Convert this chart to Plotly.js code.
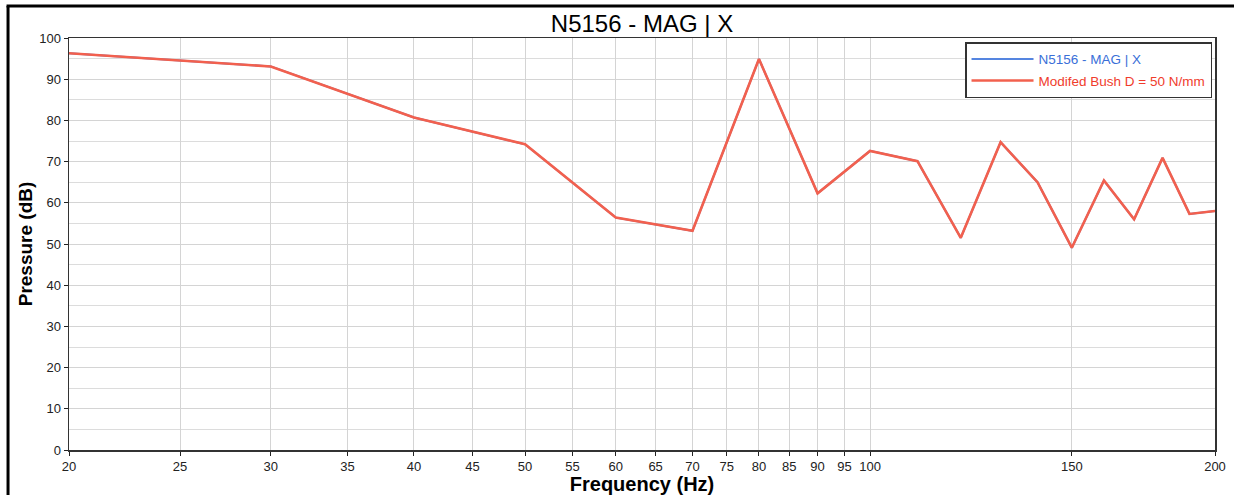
<!DOCTYPE html>
<html>
<head>
<meta charset="utf-8">
<script src="https://cdn.plot.ly/plotly-3.0.1.min.js"></script>
<style>
  html, body { margin: 0; padding: 0; background: #ffffff; }
  #chart { width: 1234px; height: 495px; }
</style>
</head>
<body>
<div id="chart"></div>
<script>
// Frequencies (Hz)
const frequency = [20, 30, 40, 50, 60, 70, 80, 90, 100, 110, 120, 130, 140, 150, 160, 170, 180, 190, 200];
// Pressure (dB) - original series (hidden under the modified one)
const pressureOriginal = [96.3, 93.1, 80.7, 74.2, 56.4, 53.2, 94.9, 62.3, 72.6, 70.1, 51.5, 74.7, 65.0, 49.1, 65.4, 56.0, 70.9, 57.3, 58.0];
// Pressure (dB) - Modified Bush D = 50 N/mm
const pressureModified = [96.3, 93.1, 80.7, 74.2, 56.4, 53.2, 94.9, 62.3, 72.6, 70.1, 51.5, 74.7, 65.0, 49.1, 65.4, 56.0, 70.9, 57.3, 58.0];

const xTickVals = [20, 25, 30, 35, 40, 45, 50, 55, 60, 65, 70, 75, 80, 85, 90, 95, 100, 150, 200];
const xTickText = ["20", "25", "30", "35", "40", "45", "50", "55", "60", "65", "70", "75", "80", "85", "90", "95", "100", "150", "200"];
const yTickVals = [0, 10, 20, 30, 40, 50, 60, 70, 80, 90, 100];

const seriesNames = ["N5156 - MAG | X", "Modifed Bush D = 50 N/mm"];

const traces = [
  {
    x: frequency, y: pressureOriginal, type: "scatter", mode: "lines",
    name: '<span style="color:#3a6fd8">' + seriesNames[0] + '</span>',
    legendgroup: "a",
    line: { color: "#5585e0", width: 2 }
  },
  {
    x: frequency, y: pressureModified, type: "scatter", mode: "lines",
    name: '<span style="color:#f03c2c">' + seriesNames[1] + '</span>',
    legendgroup: "b",
    line: { color: "#f2604e", width: 2.6 }
  }
];

const fontFam = "Liberation Sans, Arial, sans-serif";

const layout = {
  width: 1234, height: 495,
  margin: { l: 69, r: 19, t: 38, b: 45, pad: 0 },
  paper_bgcolor: "#ffffff",
  plot_bgcolor: "#ffffff",
  font: { family: fontFam, color: "#222222", size: 13 },
  title: {
    text: "N5156 - MAG | X",
    font: { family: fontFam, size: 24, color: "#000000" },
    x: 0.5, xanchor: "center", xref: "paper",
    y: 1, yref: "container", yanchor: "top", pad: { t: 15 }
  },
  xaxis: {
    type: "log",
    range: [Math.log10(20), Math.log10(200)],
    tickmode: "array", tickvals: xTickVals, ticktext: xTickText,
    ticks: "outside", ticklen: 4, tickcolor: "#222222",
    showgrid: true, gridcolor: "#d4d4d4", gridwidth: 1,
    showline: true, linecolor: "#333333", linewidth: 1.5, mirror: true,
    zeroline: false,
    tickfont: { family: fontFam, size: 13, color: "#222222" },
    title: { text: "<b>Frequency (Hz)</b>", font: { family: fontFam, size: 20, color: "#000000" }, standoff: 0 }
  },
  yaxis: {
    range: [0, 100],
    tickmode: "array", tickvals: yTickVals,
    ticks: "outside", ticklen: 4, tickcolor: "#222222",
    showgrid: true, gridcolor: "#d4d4d4", gridwidth: 1,
    minor: { dtick: 5, showgrid: true, gridcolor: "#dcdcdc", gridwidth: 1, ticks: "" },
    showline: true, linecolor: "#333333", linewidth: 1.5, mirror: true,
    zeroline: false,
    tickfont: { family: fontFam, size: 13, color: "#222222" },
    title: { text: "<b>Pressure (dB)</b>", font: { family: fontFam, size: 19, color: "#000000" }, standoff: 1 }
  },
  showlegend: true,
  legend: {
    x: 0.9974, xanchor: "right", y: 0.99, yanchor: "top",
    bgcolor: "#ffffff", bordercolor: "#333333", borderwidth: 1.5,
    font: { family: fontFam, size: 13.5 },
    itemwidth: 62, traceorder: "grouped", tracegroupgap: 1
  },
  shapes: [
    { type: "line", xref: "paper", yref: "paper", x0: -0.0532, x1: -0.0532, y0: 1.0777, y1: -0.12, line: { color: "#000000", width: 3 } },
    { type: "line", xref: "paper", yref: "paper", x0: -0.0545, x1: 1.02, y0: 1.0777, y1: 1.0777, line: { color: "#000000", width: 3 } }
  ]
};

Plotly.newPlot("chart", traces, layout, { displayModeBar: false, staticPlot: true });
</script>
</body>
</html>
